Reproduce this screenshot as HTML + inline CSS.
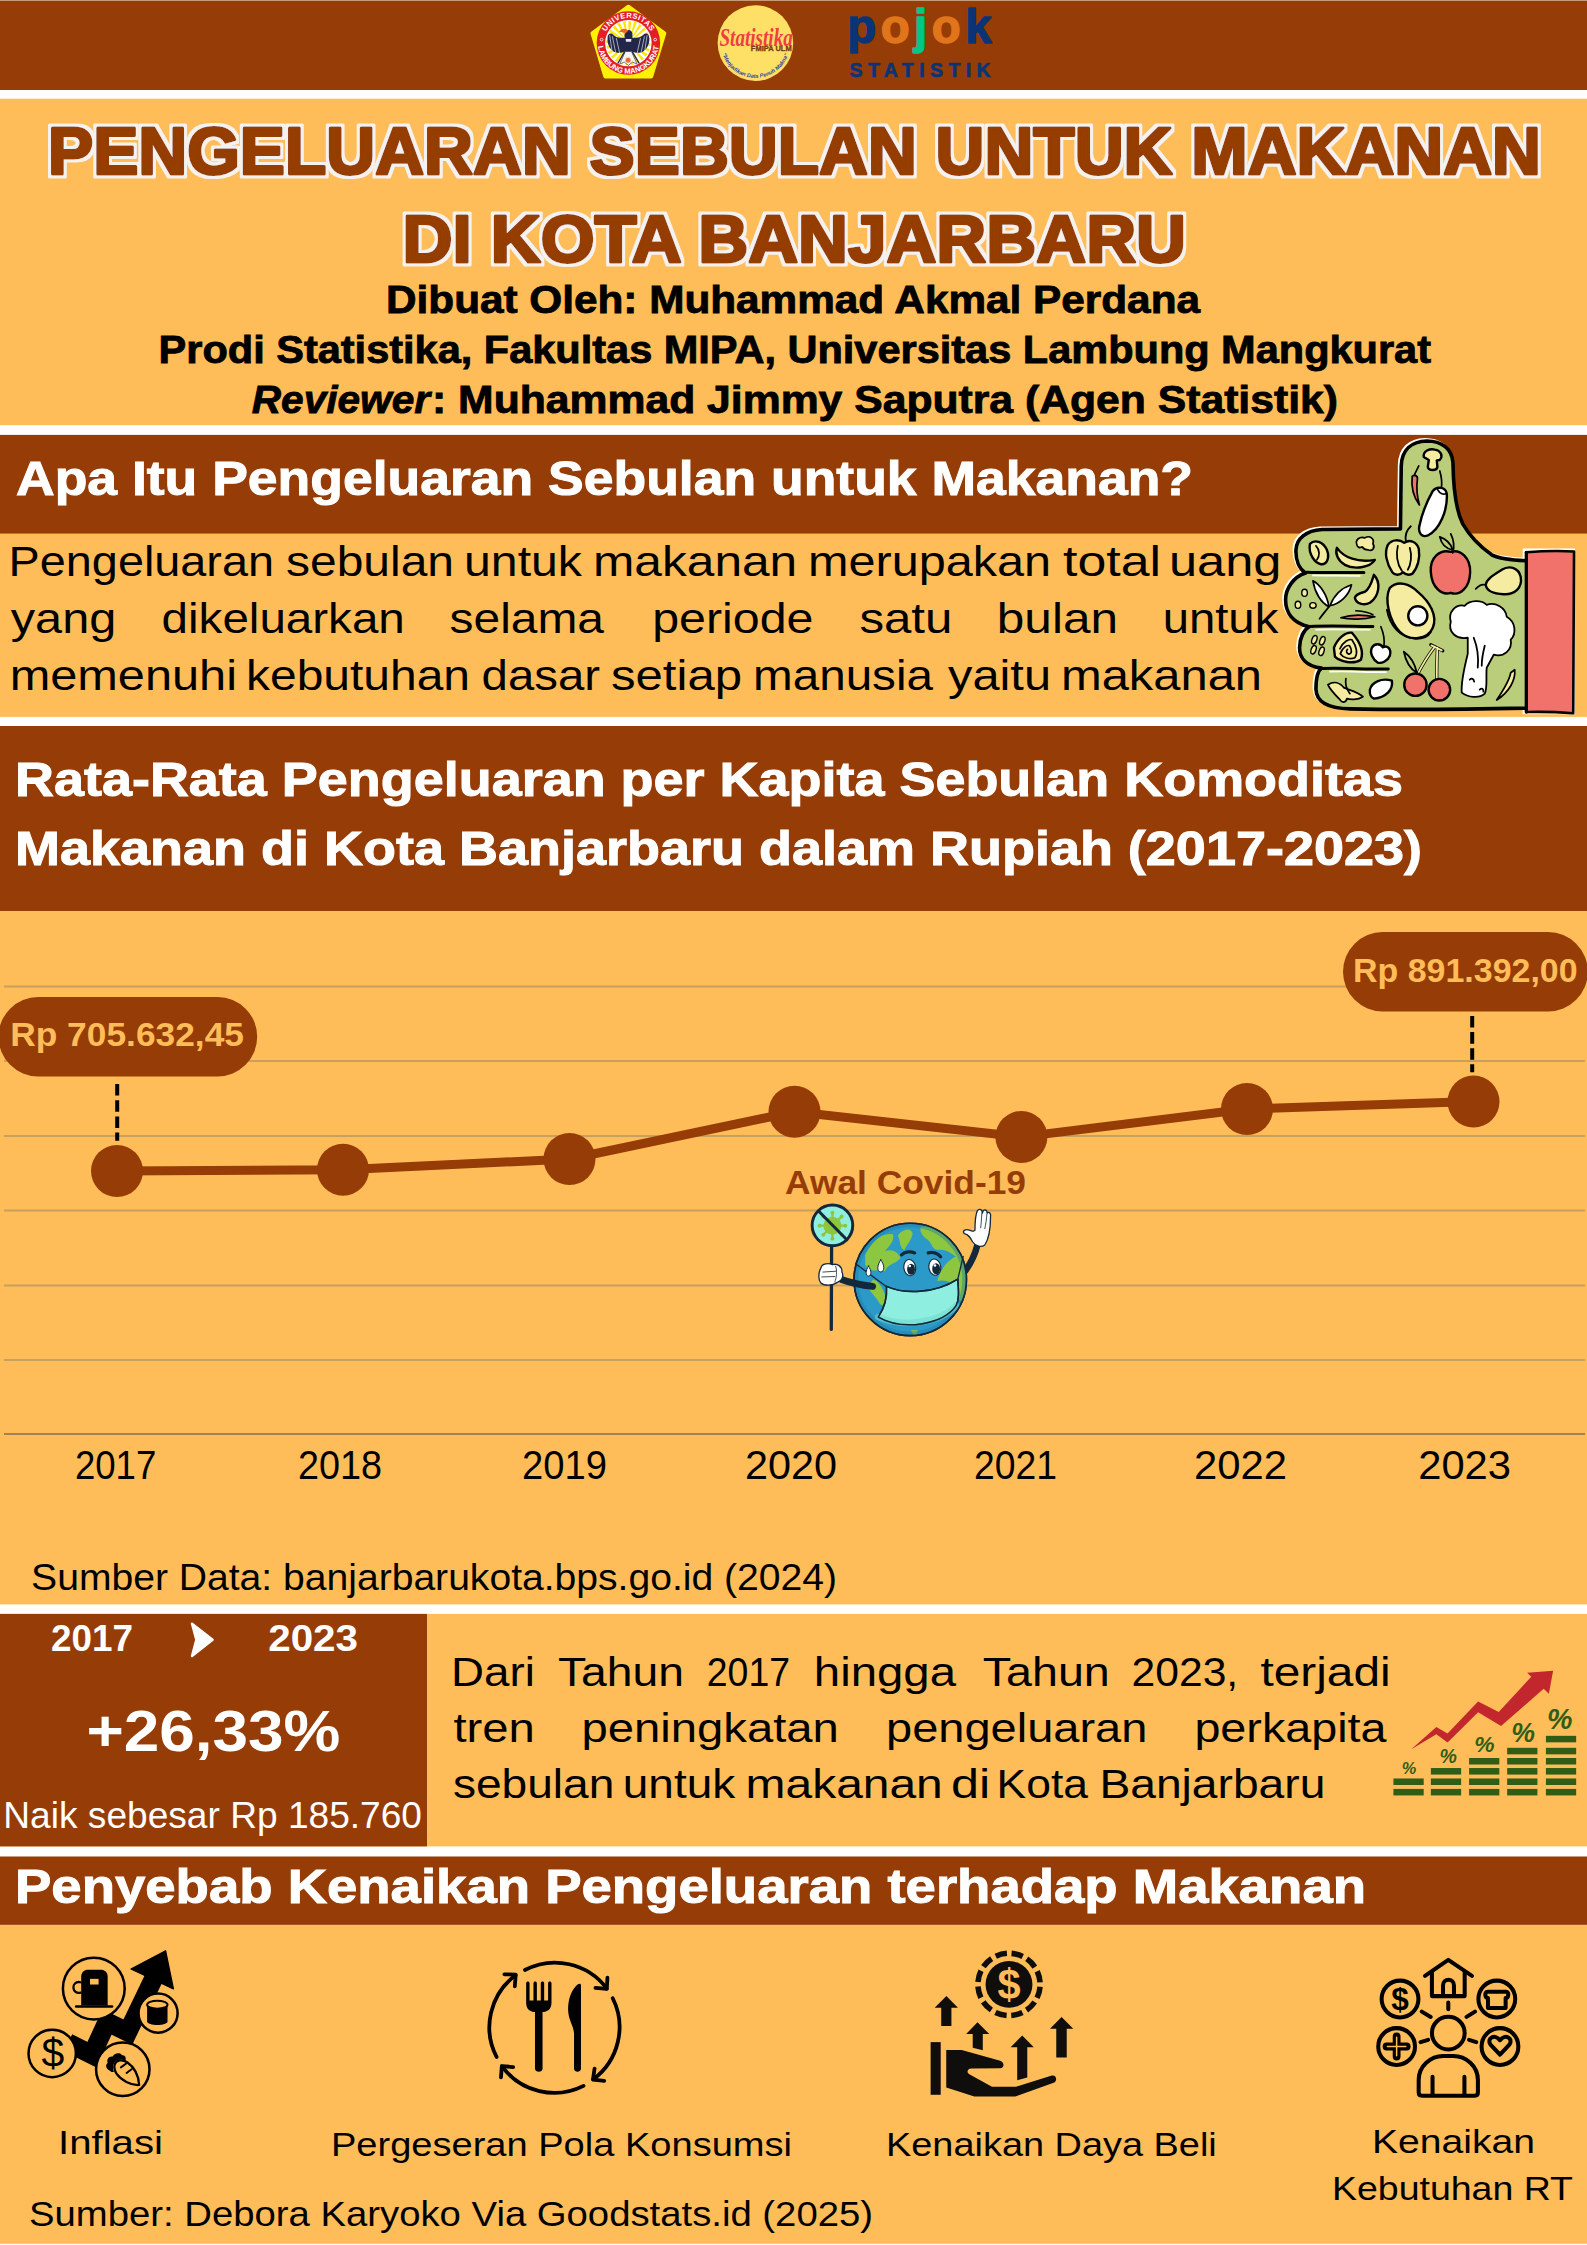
<!DOCTYPE html>
<html lang="id"><head><meta charset="utf-8"><title>Pengeluaran Sebulan untuk Makanan di Kota Banjarbaru</title>
<style>html,body{margin:0;padding:0;background:#fff}body{width:1587px;height:2245px;overflow:hidden}svg{display:block}text{font-family:"Liberation Sans",sans-serif;white-space:pre}</style></head><body>
<svg width="1587" height="2245" viewBox="0 0 1587 2245">
<defs><filter id="ol" x="-2%" y="-10%" width="104%" height="120%"><feMorphology in="SourceAlpha" operator="dilate" radius="2.9" result="d"/><feFlood flood-color="#f4f1ee"/><feComposite in2="d" operator="in" result="o"/><feMerge><feMergeNode in="o"/><feMergeNode in="SourceGraphic"/></feMerge></filter></defs>
<rect width="1587" height="2245" fill="#fff"/>
<rect x="0" y="0" width="1587" height="90" fill="#963C06"/>
<rect x="0" y="0" width="1587" height="1" fill="#c89a77"/>
<rect x="0" y="98.7" width="1587" height="326.5" fill="#FFBD59"/>
<rect x="0" y="434.9" width="1587" height="98.9" fill="#963C06"/>
<rect x="0" y="533.8" width="1587" height="183.1" fill="#FFBD59"/>
<rect x="0" y="726" width="1587" height="185" fill="#963C06"/>
<rect x="0" y="911" width="1587" height="693.4" fill="#FFBD59"/>
<rect x="0" y="1613.9" width="1587" height="232.5" fill="#FFBD59"/>
<rect x="0" y="1613.9" width="427" height="232.5" fill="#963C06"/>
<rect x="0" y="1856.5" width="1587" height="68.4" fill="#963C06"/>
<rect x="0" y="1924.9" width="1587" height="320.1" fill="#FFBD59"/>
<rect x="0" y="2243.7" width="1587" height="1.3" fill="#fff8ee"/>
<g transform="translate(580 0) scale(0.15123)">
<path d="M320 44 L558 220 L471 506 L167 506 L82 220 Z" fill="#FFF200" stroke="#FFF200" stroke-width="26" stroke-linejoin="round"/>
<circle cx="320" cy="285" r="210" fill="#E21E26"/>
<circle cx="320" cy="285" r="150" fill="#fff"/>
<path d="M320 285 L468.0 285.0 L466.7 304.3 Z M320 285 L463.0 323.3 L456.7 341.6 Z M320 285 L448.2 359.0 L437.4 375.1 Z M320 285 L424.7 389.7 L410.1 402.4 Z M320 285 L394.0 413.2 L376.6 421.7 Z M320 285 L358.3 428.0 L339.3 431.7 Z M320 285 L320.0 433.0 L300.7 431.7 Z M320 285 L281.7 428.0 L263.4 421.7 Z M320 285 L246.0 413.2 L229.9 402.4 Z M320 285 L215.3 389.7 L202.6 375.1 Z M320 285 L191.8 359.0 L183.3 341.6 Z M320 285 L177.0 323.3 L173.3 304.3 Z M320 285 L172.0 285.0 L173.3 265.7 Z M320 285 L177.0 246.7 L183.3 228.4 Z M320 285 L191.8 211.0 L202.6 194.9 Z M320 285 L215.3 180.3 L229.9 167.6 Z M320 285 L246.0 156.8 L263.4 148.3 Z M320 285 L281.7 142.0 L300.7 138.3 Z M320 285 L320.0 137.0 L339.3 138.3 Z M320 285 L358.3 142.0 L376.6 148.3 Z M320 285 L394.0 156.8 L410.1 167.6 Z M320 285 L424.7 180.3 L437.4 194.9 Z M320 285 L448.2 211.0 L456.7 228.4 Z M320 285 L463.0 246.7 L466.7 265.7 Z" fill="#FFE600"/>
<circle cx="320" cy="285" r="150" fill="none" stroke="#fff" stroke-width="7"/>
<path d="M318 262 C290 240 250 262 222 232 C205 215 188 222 184 240 C176 280 190 318 222 340 C250 356 280 350 305 335 Z" fill="#22264B"/>
<path d="M322 262 C350 240 390 262 418 232 C435 215 452 222 456 240 C464 280 450 318 418 340 C390 356 360 350 335 335 Z" fill="#22264B"/>
<path d="M196 232 L212 336 M214 240 L236 348 M240 252 L262 350 M444 232 L428 336 M426 240 L404 348 M400 252 L378 350" stroke="#fff" stroke-width="4" fill="none"/>
<path d="M296 218 C300 192 340 190 346 218 C350 240 342 262 348 290 C354 322 340 350 320 350 C300 350 286 322 292 290 C298 262 292 240 296 218 Z" fill="#22264B"/>
<path d="M302 258 L340 258 L338 276 L304 276 Z" fill="#e8e8ee"/>
<path d="M258 212 C272 186 300 182 320 204 L300 222 C290 214 274 213 258 212 Z" fill="#F26522"/>
<path d="M300 340 L262 425 L292 410 L320 432 L348 410 L378 425 L340 340 Z" fill="#f4f4f8" stroke="#22264B" stroke-width="4"/>
<path d="M296 340 L250 420 M344 340 L392 420" stroke="#22264B" stroke-width="9" fill="none"/>
<circle cx="318" cy="398" r="19" fill="#F26522" stroke="#fff" stroke-width="4"/>
<defs><path id="ulmT" d="M154 285 A166 166 0 0 1 486 285"/><path id="ulmB" d="M118 285 A202 202 0 0 0 522 285"/></defs>
<text font-size="50" font-weight="700" fill="#fff" text-anchor="middle" letter-spacing="3"><textPath href="#ulmT" startOffset="50%">UNIVERSITAS</textPath></text>
<text font-size="50" font-weight="700" fill="#fff" text-anchor="middle" letter-spacing="0"><textPath href="#ulmB" startOffset="50%">LAMBUNG MANGKURAT</textPath></text>
<circle cx="143" cy="262" r="9" fill="none" stroke="#fff" stroke-width="5"/><circle cx="497" cy="262" r="9" fill="none" stroke="#fff" stroke-width="5"/>
</g>
<g transform="translate(580 0) scale(0.15123)">
<circle cx="1160" cy="285" r="250" fill="#FFE066"/>
<text x="922" y="302" font-size="165" font-style="italic" font-weight="700" fill="#EF3E42" style='font-family:"Liberation Serif",serif' textLength="485" lengthAdjust="spacingAndGlyphs">Statistika</text>
<text x="1130" y="338" font-size="46" font-weight="700" fill="#7A3B10" stroke="#7A3B10" stroke-width="2" textLength="270" lengthAdjust="spacingAndGlyphs">FMIPA ULM</text>
<defs><path id="stB" d="M940 352 A230 230 0 0 0 1380 352"/></defs>
<text font-size="36" font-weight="700" font-style="italic" fill="#2B4B9B"><textPath href="#stB" startOffset="4" textLength="575" lengthAdjust="spacingAndGlyphs">"Menjadikan Data Penuh Makna"</textPath></text>
</g>
<g transform="translate(830 0) scale(0.11342)" font-weight="700" stroke-linejoin="round">
<text x="152" y="383" font-size="418" stroke-width="13" textLength="1272" lengthAdjust="spacing"><tspan fill="#0B3478" stroke="#0B3478">p</tspan><tspan fill="#E0751B" stroke="#E0751B">o</tspan><tspan fill="#00C785" stroke="#00C785">j</tspan><tspan fill="#E0751B" stroke="#E0751B">o</tspan><tspan fill="#0B3478" stroke="#0B3478">k</tspan></text>
<text x="172" y="678" font-size="172" fill="#0B3478" stroke="#0B3478" stroke-width="6" textLength="1245" lengthAdjust="spacing">STATISTIK</text>
</g>
<g filter="url(#ol)" fill="#963C06" stroke="#963C06" stroke-width="3" stroke-linejoin="round" font-weight="700">
<text x="48.0" y="174.0" font-size="67.3" font-weight="700" fill="#963C06" textLength="1493.0" lengthAdjust="spacingAndGlyphs">PENGELUARAN SEBULAN UNTUK MAKANAN</text>
<text x="402.5" y="262.0" font-size="67.3" font-weight="700" fill="#963C06" textLength="783.5" lengthAdjust="spacingAndGlyphs">DI KOTA BANJARBARU</text>
</g>
<text x="386.0" y="312.6" font-size="38" font-weight="700" fill="#000" textLength="814.0" lengthAdjust="spacingAndGlyphs" stroke="#000" stroke-width="0.8">Dibuat Oleh: Muhammad Akmal Perdana</text>
<text x="158.6" y="362.5" font-size="38" font-weight="700" fill="#000" textLength="1272.4" lengthAdjust="spacingAndGlyphs" stroke="#000" stroke-width="0.8">Prodi Statistika, Fakultas MIPA, Universitas Lambung Mangkurat</text>
<text y="412.6" font-size="38" font-weight="700" fill="#000" stroke="#000" stroke-width="0.8"><tspan x="251.8" font-style="italic" textLength="178.2" lengthAdjust="spacingAndGlyphs">Reviewer</tspan><tspan x="432.0" textLength="906.0" lengthAdjust="spacingAndGlyphs">: Muhammad Jimmy Saputra (Agen Statistik)</tspan></text>
<text x="16.0" y="494.7" font-size="49" font-weight="700" fill="#fff" textLength="1177.0" lengthAdjust="spacingAndGlyphs" stroke="#fff" stroke-width="1">Apa Itu Pengeluaran Sebulan untuk Makanan?</text>
<text y="575.7" font-size="41.6" font-weight="400" fill="#000"><tspan x="8.6" textLength="265.4" lengthAdjust="spacingAndGlyphs">Pengeluaran</tspan> <tspan x="286.0" textLength="168.0" lengthAdjust="spacingAndGlyphs">sebulan</tspan> <tspan x="464.0" textLength="118.0" lengthAdjust="spacingAndGlyphs">untuk</tspan> <tspan x="593.0" textLength="204.2" lengthAdjust="spacingAndGlyphs">makanan</tspan> <tspan x="808.0" textLength="243.0" lengthAdjust="spacingAndGlyphs">merupakan</tspan> <tspan x="1063.0" textLength="98.0" lengthAdjust="spacingAndGlyphs">total</tspan> <tspan x="1169.0" textLength="112.4" lengthAdjust="spacingAndGlyphs">uang</tspan></text>
<text y="632.6" font-size="41.6" font-weight="400" fill="#000"><tspan x="10.8" textLength="105.4" lengthAdjust="spacingAndGlyphs">yang</tspan> <tspan x="161.6" textLength="243.2" lengthAdjust="spacingAndGlyphs">dikeluarkan</tspan> <tspan x="449.6" textLength="154.4" lengthAdjust="spacingAndGlyphs">selama</tspan> <tspan x="652.2" textLength="161.2" lengthAdjust="spacingAndGlyphs">periode</tspan> <tspan x="859.4" textLength="93.0" lengthAdjust="spacingAndGlyphs">satu</tspan> <tspan x="996.8" textLength="121.2" lengthAdjust="spacingAndGlyphs">bulan</tspan> <tspan x="1162.7" textLength="115.6" lengthAdjust="spacingAndGlyphs">untuk</tspan></text>
<text y="689.6" font-size="41.6" font-weight="400" fill="#000"><tspan x="9.7" textLength="227.3" lengthAdjust="spacingAndGlyphs">memenuhi</tspan> <tspan x="246.0" textLength="224.0" lengthAdjust="spacingAndGlyphs">kebutuhan</tspan> <tspan x="481.6" textLength="118.4" lengthAdjust="spacingAndGlyphs">dasar</tspan> <tspan x="611.0" textLength="131.0" lengthAdjust="spacingAndGlyphs">setiap</tspan> <tspan x="753.0" textLength="180.0" lengthAdjust="spacingAndGlyphs">manusia</tspan> <tspan x="948.0" textLength="103.0" lengthAdjust="spacingAndGlyphs">yaitu</tspan> <tspan x="1061.0" textLength="201.0" lengthAdjust="spacingAndGlyphs">makanan</tspan></text>
<g transform="translate(1270 430) scale(0.19975)" stroke-linecap="round" stroke-linejoin="round">
<defs><path id="handsil" d="M653 495 L657 180 C660 100 708 57 785 55 C860 55 912 95 916 165 C918 300 930 400 965 470 C1000 530 1060 590 1110 625 C1160 650 1230 652 1290 655 L1290 1392 C1000 1398 700 1402 400 1396 C290 1394 232 1360 230 1298 C230 1245 240 1205 258 1192 C180 1182 148 1140 148 1090 C148 1040 170 1000 196 985 C110 965 78 910 78 850 C78 790 120 735 178 716 C145 695 128 650 130 600 C132 545 180 503 260 498 Z"/></defs>
<use href="#handsil" transform="translate(-9 -7)" fill="#fff" stroke="#fff" stroke-width="16"/>
<rect x="1272" y="598" width="262" height="830" fill="#fff" transform="translate(-7 -5)"/>
<use href="#handsil" fill="#BACD7B" stroke="#000" stroke-width="18"/>
<g fill="none" stroke="#000" stroke-width="15">
<path d="M185 712 C300 716 400 712 470 714"/><path d="M200 984 C320 978 430 985 515 984"/><path d="M262 1194 C380 1190 500 1200 592 1196"/>
</g>
<g fill="none" stroke="#fff" stroke-width="8.5"><path d="M215 728 C300 730 380 728 450 730"/><path d="M230 1000 C320 996 430 1001 500 1000"/><path d="M300 1210 C400 1206 500 1214 580 1212"/></g>
<!-- sleeve -->
<path d="M1283 612 C1360 606 1450 604 1522 608 L1518 1418 C1440 1412 1350 1410 1283 1412 Z" fill="#F0726B" stroke="#000" stroke-width="13"/>
<path d="M1283 612 L1283 1412" stroke="#000" stroke-width="16" fill="none"/>
<g stroke="#000" stroke-width="12">
<!-- mushroom -->
<path d="M770 135 C765 105 800 92 825 98 C855 102 868 130 850 150 L835 152 L838 185 C835 205 795 205 790 185 L795 150 Z" fill="#F5ECA2"/>
<!-- chili -->
<path d="M745 180 C735 200 725 215 722 230" fill="none" stroke-width="8.5"/>
<path d="M712 232 C722 222 740 228 738 245 C732 290 735 330 748 375 C722 340 705 290 712 232 Z" fill="#F0726B" stroke-width="8.5"/>
<!-- eggplant/radish -->
<path d="M850 205 C860 240 862 265 858 290" fill="none" stroke-width="8.5"/>
<path d="M815 305 C835 280 880 285 885 320 C890 400 850 500 790 528 C760 540 740 515 748 480 C760 420 790 350 815 305 Z" fill="#fff"/>
<path d="M840 300 C850 320 870 325 883 318" fill="none" stroke-width="9"/>
<!-- pepper -->
<path d="M680 560 C675 530 685 500 705 482" fill="none" stroke-width="9"/>
<path d="M590 575 C610 545 650 548 672 565 C700 545 735 560 745 595 C752 640 740 690 712 720 C690 730 675 722 665 712 C650 730 625 728 612 712 C585 670 570 615 590 575 Z" fill="#F5ECA2"/>
<path d="M640 580 C630 620 635 670 660 705 M700 590 C712 630 705 675 690 700" fill="none" stroke-width="9"/>
<!-- apple -->
<path d="M905 610 C850 595 800 640 805 710 C810 790 860 830 905 815 C950 832 1000 790 1002 712 C1004 640 955 596 905 610 Z" fill="#F0726B"/>
<path d="M915 615 C925 580 920 550 905 520" fill="none" stroke-width="9"/>
<path d="M850 535 C880 545 905 570 915 600 C880 595 858 570 850 535 Z" fill="#BACD7B" stroke-width="9"/>
<!-- pear -->
<path d="M1075 775 C1060 770 1045 780 1030 795" fill="none" stroke-width="8.5"/>
<path d="M1080 775 C1085 745 1120 725 1160 700 C1200 675 1245 690 1255 735 C1265 790 1225 825 1170 822 C1130 820 1085 810 1080 775 Z" fill="#F5ECA2"/>
<!-- avocado -->
<path d="M600 790 C640 750 700 770 740 810 C800 860 840 930 815 990 C790 1050 700 1060 650 1010 C600 960 570 850 600 790 Z" fill="#F5ECA2"/>
<path d="M585 900 C600 980 650 1040 730 1045 C770 1045 795 1030 805 1010" fill="none" stroke-width="9"/>
<circle cx="740" cy="930" r="48" fill="#fff"/>
<!-- cauliflower -->
<path d="M990 1040 C930 1050 890 1010 905 960 C890 910 930 870 975 880 C1000 850 1060 850 1085 875 C1130 860 1180 890 1185 935 C1230 960 1235 1020 1205 1050 C1215 1100 1170 1140 1120 1125 L1085 1190 C1080 1240 1090 1290 1075 1320 C1050 1345 990 1340 960 1315 C955 1260 975 1180 990 1120 Z" fill="#fff" stroke-width="9"/>
<path d="M1020 1040 C1040 1090 1045 1140 1040 1190 M1075 1080 C1065 1120 1060 1150 1060 1180 M1000 1250 C1010 1240 1020 1245 1022 1260 M1050 1300 C1060 1290 1070 1295 1068 1310" fill="none" stroke-width="9"/>
<!-- cherries -->
<path d="M735 1230 C760 1180 790 1130 825 1085 M835 1260 C835 1200 835 1140 838 1090 M805 1075 L865 1105" fill="none" stroke="#000" stroke-width="16"/>
<path d="M735 1230 C760 1180 790 1130 825 1085 M835 1260 C835 1200 835 1140 838 1090 M808 1078 L860 1103" fill="none" stroke="#F5ECA2" stroke-width="9"/>
<path d="M670 1110 C700 1130 725 1170 735 1215 C700 1195 680 1160 670 1110 Z" fill="#BACD7B" stroke-width="9"/>
<circle cx="728" cy="1275" r="56" fill="#F0726B"/><circle cx="848" cy="1300" r="54" fill="#F0726B"/>
<!-- lemon -->
<path d="M500 1300 C510 1260 560 1240 610 1255 C618 1300 580 1340 520 1345 C505 1340 498 1320 500 1300 Z" fill="#fff"/>
<!-- heart fruit -->
<path d="M555 985 C570 1020 575 1050 570 1085" fill="none" stroke-width="8.5"/>
<path d="M510 1090 C525 1065 555 1070 565 1088 C585 1075 610 1095 600 1130 C590 1155 560 1170 540 1165 C515 1150 498 1115 510 1090 Z" fill="#fff"/>
<!-- spiral cabbage -->
<path d="M320 1090 C340 1040 380 1010 410 1015 C450 1060 470 1110 455 1150 C420 1175 350 1160 325 1135 Z" fill="#F5ECA2"/>
<path d="M350 1095 C365 1060 395 1045 410 1050 C435 1085 440 1120 425 1140 C400 1150 365 1140 352 1120 C362 1090 385 1075 398 1080 C412 1100 410 1120 395 1122 C382 1118 380 1105 388 1098" fill="none" stroke-width="8.5"/>
<!-- grains -->
<g fill="#F5ECA2" stroke-width="7"><ellipse cx="222" cy="1050" rx="12" ry="22" transform="rotate(20 222 1050)"/><ellipse cx="262" cy="1055" rx="12" ry="22" transform="rotate(20 262 1055)"/><ellipse cx="218" cy="1100" rx="12" ry="22" transform="rotate(20 218 1100)"/><ellipse cx="258" cy="1108" rx="12" ry="22" transform="rotate(20 258 1108)"/></g>
<!-- peanut/banana bottom -->
<path d="M290 1275 C320 1255 350 1265 370 1290 C390 1300 440 1310 465 1335 C440 1352 400 1350 385 1345 C380 1365 360 1368 350 1350 C330 1330 300 1300 290 1275 Z" fill="#F5ECA2" stroke-width="9"/>
<path d="M380 1245 C375 1270 385 1300 400 1320" fill="none" stroke-width="8.5"/>
<!-- bean -->
<path d="M200 570 C225 545 265 560 285 600 C300 640 285 675 255 672 C225 668 190 620 200 570 Z" fill="#F5ECA2"/>
<path d="M230 580 C250 600 250 630 235 650" fill="none" stroke-width="8.5"/>
<!-- banana -->
<path d="M335 590 C370 640 440 665 525 650 C500 690 420 700 375 675 C340 655 325 620 335 590 Z" fill="#F5ECA2"/>
<!-- small cauliflower -->
<path d="M435 575 C425 550 450 530 475 540 C500 525 525 545 515 570 C530 590 510 610 490 600 C470 600 465 590 462 585 C450 592 438 588 435 575 Z" fill="#F5ECA2" stroke-width="8.5"/>
<!-- leaves -->
<path d="M215 755 C250 775 285 820 295 885 C255 865 225 815 215 755 Z" fill="#fff" stroke-width="8.5"/>
<path d="M300 880 C320 830 360 790 408 775 C395 830 350 870 300 880 Z" fill="#fff" stroke-width="8.5"/>
<path d="M295 885 C280 905 262 925 248 945" fill="none" stroke-width="9"/>
<g fill="#F5ECA2" stroke-width="7"><ellipse cx="173" cy="815" rx="14" ry="18"/><ellipse cx="140" cy="875" rx="14" ry="18"/><ellipse cx="215" cy="878" rx="16" ry="14"/></g>
<!-- cashew -->
<path d="M520 725 C555 760 550 830 500 865 C470 880 430 870 425 840 C430 820 455 815 475 810 C505 790 510 755 520 725 Z" fill="#F5ECA2"/>
<!-- small chili -->
<path d="M355 940 C400 925 470 925 525 935 C470 950 400 950 355 940 Z" fill="#F0726B" stroke-width="8.5"/>
<path d="M430 905 C470 908 500 915 515 925" fill="none" stroke-width="8.5"/>
<!-- small chili br -->
<path d="M1225 1200 C1230 1250 1200 1310 1135 1352 C1170 1300 1200 1250 1205 1215 Z" fill="#F5ECA2" stroke-width="8.5"/>
</g>
</g>

<text x="15.0" y="796.0" font-size="49" font-weight="700" fill="#fff" textLength="1388.0" lengthAdjust="spacingAndGlyphs" stroke="#fff" stroke-width="1">Rata-Rata Pengeluaran per Kapita Sebulan Komoditas</text>
<text x="15.0" y="864.8" font-size="49" font-weight="700" fill="#fff" textLength="1407.0" lengthAdjust="spacingAndGlyphs" stroke="#fff" stroke-width="1">Makanan di Kota Banjarbaru dalam Rupiah (2017-2023)</text>
<rect x="4" y="985.5" width="1581" height="2" fill="#c79f5e"/>
<rect x="4" y="1060" width="1581" height="2" fill="#c79f5e"/>
<rect x="4" y="1135" width="1581" height="2" fill="#c79f5e"/>
<rect x="4" y="1209.5" width="1581" height="2" fill="#c79f5e"/>
<rect x="4" y="1284.5" width="1581" height="2" fill="#c79f5e"/>
<rect x="4" y="1359" width="1581" height="2" fill="#c79f5e"/>
<rect x="4" y="1433" width="1581" height="2" fill="#a08451"/>
<polyline points="117,1171 343,1169.7 569.5,1159 794.5,1111.7 1021.4,1136.9 1247,1109 1473.5,1101.6" fill="none" stroke="#963C06" stroke-width="9" stroke-linejoin="round"/>
<circle cx="117" cy="1171" r="26" fill="#963C06"/>
<circle cx="343" cy="1169.7" r="26" fill="#963C06"/>
<circle cx="569.5" cy="1159" r="26" fill="#963C06"/>
<circle cx="794.5" cy="1111.7" r="26" fill="#963C06"/>
<circle cx="1021.4" cy="1136.9" r="26" fill="#963C06"/>
<circle cx="1247" cy="1109" r="26" fill="#963C06"/>
<circle cx="1473.5" cy="1101.6" r="26" fill="#963C06"/>
<rect x="-1.5" y="997" width="258.7" height="79.4" rx="39.7" fill="#963C06"/>
<rect x="1343" y="932" width="244.8" height="79.4" rx="39.7" fill="#963C06"/>
<text x="10.2" y="1046.0" font-size="34" font-weight="700" fill="#FFBD59" textLength="233.8" lengthAdjust="spacingAndGlyphs">Rp 705.632,45</text>
<text x="1353.0" y="981.7" font-size="34" font-weight="700" fill="#FFBD59" textLength="224.6" lengthAdjust="spacingAndGlyphs">Rp 891.392,00</text>
<line x1="117.2" y1="1084" x2="117.2" y2="1140.7" stroke="#000" stroke-width="4" stroke-dasharray="11.6 4.6"/>
<line x1="1472.2" y1="1016" x2="1472.2" y2="1072.3" stroke="#000" stroke-width="4" stroke-dasharray="11.6 4.5"/>
<text x="785.0" y="1194.0" font-size="33" font-weight="700" fill="#963C06" textLength="241.0" lengthAdjust="spacingAndGlyphs">Awal Covid-19</text>
<g transform="translate(780 1150) scale(0.16383)" stroke-linecap="round" stroke-linejoin="round">
<defs><clipPath id="ecl"><circle cx="795" cy="790" r="340"/></clipPath></defs>
<!-- pole + sign -->
<path d="M315 590 L313 1095" stroke="#13283B" stroke-width="20" fill="none"/>
<circle cx="320" cy="460" r="124" fill="#8EEFE0" stroke="#13283B" stroke-width="18"/>
<g fill="#8DC63F" stroke="#8DC63F" stroke-width="14">
<circle cx="320" cy="462" r="55" stroke="none"/>
<path d="M320 462 L320 385 M320 462 L320 540 M320 462 L243 462 M320 462 L397 462 M320 462 L266 408 M320 462 L374 408 M320 462 L266 516 M320 462 L374 516" fill="none"/>
<circle cx="320" cy="383" r="5"/><circle cx="320" cy="541" r="5"/><circle cx="241" cy="462" r="5"/><circle cx="399" cy="462" r="5"/><circle cx="264" cy="406" r="5"/><circle cx="376" cy="406" r="5"/><circle cx="264" cy="518" r="5"/><circle cx="376" cy="518" r="5"/>
</g>
<path d="M235 372 L408 548" stroke="#13283B" stroke-width="18" fill="none"/>
<!-- right arm -->
<path d="M1125 745 C1160 700 1190 640 1205 580" stroke="#13283B" stroke-width="40" fill="none"/>
<!-- earth -->
<circle cx="795" cy="790" r="343" fill="#2B9AC8" stroke="#13283B" stroke-width="10"/>
<g clip-path="url(#ecl)">
<path d="M520 640 C560 560 620 500 690 515 C700 560 660 590 640 620 C680 600 720 620 735 660 C700 700 660 690 640 740 C600 720 560 760 520 700 Z" fill="#8DC63F"/>
<path d="M720 520 C750 480 800 470 810 510 C800 560 770 580 760 610 C730 600 735 560 720 520 Z" fill="#8DC63F"/>
<path d="M860 470 C930 450 1010 500 1060 560 C1100 600 1120 650 1110 680 C1060 640 1020 600 960 610 C920 600 930 560 890 540 C870 520 850 500 860 470 Z" fill="#8DC63F"/>
<path d="M960 800 C980 720 1040 650 1110 640 C1150 700 1160 820 1130 900 C1100 940 1080 920 1075 860 C1060 800 1000 790 960 800 Z" fill="#8DC63F"/>
<path d="M570 790 C600 800 620 830 640 880 C650 930 630 960 610 940 C590 900 560 880 545 850 C550 820 555 800 570 790 Z" fill="#8DC63F"/>
<path d="M800 1100 L840 1100 L835 1135 L815 1135 Z" fill="#8DC63F"/>
<circle cx="795" cy="790" r="343" fill="none" stroke="#1F7FA8" stroke-width="50" opacity="0.45"/>
</g>
<!-- mask -->
<path d="M470 700 L650 835 M1118 650 L1085 790" stroke="#13283B" stroke-width="8" fill="none"/>
<path d="M650 832 C760 880 940 880 1085 788 C1090 860 1095 910 1075 950 C1000 1060 760 1110 600 1020 C640 960 655 900 650 832 Z" fill="#8EEFE0" stroke="#13283B" stroke-width="9"/>
<path d="M600 1020 C760 1090 980 1050 1075 950" fill="none" stroke="#6FD8CC" stroke-width="40" opacity="0.6"/>
<path d="M650 832 C760 880 940 880 1085 788 C1090 860 1095 910 1075 950 C1000 1060 760 1110 600 1020 C640 960 655 900 650 832 Z" fill="none" stroke="#13283B" stroke-width="9"/>
<circle cx="795" cy="790" r="343" fill="none" stroke="#13283B" stroke-width="10"/>
<!-- face -->
<path d="M742 640 C765 618 800 618 822 628" stroke="#13283B" stroke-width="20" fill="none"/>
<path d="M905 628 C930 620 962 628 980 652" stroke="#13283B" stroke-width="20" fill="none"/>
<ellipse cx="792" cy="718" rx="36" ry="50" fill="#fff" stroke="#13283B" stroke-width="7" transform="rotate(-8 792 718)"/>
<ellipse cx="945" cy="715" rx="36" ry="50" fill="#fff" stroke="#13283B" stroke-width="7" transform="rotate(-8 945 715)"/>
<ellipse cx="800" cy="728" rx="24" ry="34" fill="#13283B"/><ellipse cx="953" cy="725" rx="24" ry="34" fill="#13283B"/>
<circle cx="792" cy="708" r="8" fill="#fff"/><circle cx="946" cy="705" r="8" fill="#fff"/>
<!-- tears -->
<path d="M615 670 C640 705 640 740 615 745 C590 740 592 705 615 670 Z" fill="#fff" stroke="#13283B" stroke-width="6"/>
<path d="M540 708 C560 738 560 765 540 770 C520 765 522 738 540 708 Z" fill="#fff" stroke="#13283B" stroke-width="6"/>
<!-- left arm -->
<path d="M375 790 C430 810 500 825 565 832" stroke="#13283B" stroke-width="42" fill="none"/>
<!-- left fist -->
<path d="M250 720 C255 690 300 690 320 700 C350 690 380 710 378 745 C390 770 380 800 350 808 C320 830 270 830 248 810 C232 790 235 745 250 720 Z" fill="#fff" stroke="#13283B" stroke-width="8"/>
<path d="M262 745 L340 740 M255 775 L335 772 M340 710 C350 740 345 780 335 805" stroke="#13283B" stroke-width="5" fill="none"/>
<!-- right hand -->
<path d="M1175 560 C1160 530 1150 515 1125 510 C1110 495 1130 480 1160 490 C1175 495 1185 500 1190 490 C1190 440 1195 390 1205 370 C1220 355 1235 365 1235 385 C1240 360 1262 358 1265 385 C1275 375 1290 385 1285 410 C1285 470 1275 540 1250 580 C1230 595 1195 590 1175 560 Z" fill="#fff" stroke="#13283B" stroke-width="8"/>
<path d="M1232 385 C1230 420 1228 450 1225 475 M1263 390 C1260 425 1256 455 1250 480" stroke="#13283B" stroke-width="5" fill="none"/>
</g>

<text x="74.9" y="1479.0" font-size="41.2" font-weight="400" fill="#000" textLength="81.4" lengthAdjust="spacingAndGlyphs">2017</text>
<text x="298.0" y="1479.0" font-size="41.2" font-weight="400" fill="#000" textLength="84.0" lengthAdjust="spacingAndGlyphs">2018</text>
<text x="522.0" y="1479.0" font-size="41.2" font-weight="400" fill="#000" textLength="85.0" lengthAdjust="spacingAndGlyphs">2019</text>
<text x="745.0" y="1479.0" font-size="41.2" font-weight="400" fill="#000" textLength="92.0" lengthAdjust="spacingAndGlyphs">2020</text>
<text x="974.0" y="1479.0" font-size="41.2" font-weight="400" fill="#000" textLength="83.0" lengthAdjust="spacingAndGlyphs">2021</text>
<text x="1194.0" y="1479.0" font-size="41.2" font-weight="400" fill="#000" textLength="93.0" lengthAdjust="spacingAndGlyphs">2022</text>
<text x="1418.2" y="1479.0" font-size="41.2" font-weight="400" fill="#000" textLength="92.8" lengthAdjust="spacingAndGlyphs">2023</text>
<text x="31.1" y="1590.4" font-size="36" font-weight="400" fill="#000" textLength="805.9" lengthAdjust="spacingAndGlyphs">Sumber Data: banjarbarukota.bps.go.id (2024)</text>
<text x="51.0" y="1651.4" font-size="36.5" font-weight="700" fill="#fff" textLength="82.0" lengthAdjust="spacingAndGlyphs">2017</text>
<text x="268.2" y="1651.4" font-size="36.5" font-weight="700" fill="#fff" textLength="89.8" lengthAdjust="spacingAndGlyphs">2023</text>
<path d="M192 1623.6 L212.6 1639.7 L192 1656 L196.3 1639.7 Z" fill="#fff" stroke="#fff" stroke-width="2.4" stroke-linejoin="round"/>
<text x="86.4" y="1751.0" font-size="57" font-weight="700" fill="#fff" textLength="254.0" lengthAdjust="spacingAndGlyphs">+26,33%</text>
<text x="3.3" y="1827.8" font-size="36" font-weight="400" fill="#fff" textLength="418.7" lengthAdjust="spacingAndGlyphs">Naik sebesar Rp 185.760</text>
<text y="1686.3" font-size="40.4" font-weight="400" fill="#000"><tspan x="451.1" textLength="83.7" lengthAdjust="spacingAndGlyphs">Dari</tspan> <tspan x="558.0" textLength="126.0" lengthAdjust="spacingAndGlyphs">Tahun</tspan> <tspan x="706.8" textLength="83.2" lengthAdjust="spacingAndGlyphs">2017</tspan> <tspan x="813.8" textLength="142.2" lengthAdjust="spacingAndGlyphs">hingga</tspan> <tspan x="982.8" textLength="127.0" lengthAdjust="spacingAndGlyphs">Tahun</tspan> <tspan x="1131.6" textLength="106.6" lengthAdjust="spacingAndGlyphs">2023,</tspan> <tspan x="1260.4" textLength="130.2" lengthAdjust="spacingAndGlyphs">terjadi</tspan></text>
<text y="1742.4" font-size="40.4" font-weight="400" fill="#000"><tspan x="453.4" textLength="81.4" lengthAdjust="spacingAndGlyphs">tren</tspan> <tspan x="581.6" textLength="257.2" lengthAdjust="spacingAndGlyphs">peningkatan</tspan> <tspan x="886.0" textLength="261.4" lengthAdjust="spacingAndGlyphs">pengeluaran</tspan> <tspan x="1194.4" textLength="192.2" lengthAdjust="spacingAndGlyphs">perkapita</tspan></text>
<text y="1798.4" font-size="40.4" font-weight="400" fill="#000"><tspan x="452.9" textLength="161.5" lengthAdjust="spacingAndGlyphs">sebulan</tspan> <tspan x="622.8" textLength="112.4" lengthAdjust="spacingAndGlyphs">untuk</tspan> <tspan x="745.6" textLength="197.2" lengthAdjust="spacingAndGlyphs">makanan</tspan> <tspan x="951.0" textLength="39.2" lengthAdjust="spacingAndGlyphs">di</tspan> <tspan x="996.6" textLength="91.4" lengthAdjust="spacingAndGlyphs">Kota</tspan> <tspan x="1099.4" textLength="226.0" lengthAdjust="spacingAndGlyphs">Banjarbaru</tspan></text>
<g transform="translate(1380 1650) scale(0.13043)">
<rect x="103" y="1065" width="232" height="50" fill="#2F5D16"/>
<rect x="103" y="985" width="232" height="50" fill="#2F5D16"/>
<rect x="390" y="1065" width="232" height="50" fill="#2F5D16"/>
<rect x="390" y="985" width="232" height="50" fill="#2F5D16"/>
<rect x="390" y="905" width="232" height="50" fill="#2F5D16"/>
<rect x="683" y="1065" width="232" height="50" fill="#2F5D16"/>
<rect x="683" y="985" width="232" height="50" fill="#2F5D16"/>
<rect x="683" y="905" width="232" height="50" fill="#2F5D16"/>
<rect x="683" y="828" width="232" height="50" fill="#2F5D16"/>
<rect x="975" y="1065" width="232" height="50" fill="#2F5D16"/>
<rect x="975" y="985" width="232" height="50" fill="#2F5D16"/>
<rect x="975" y="905" width="232" height="50" fill="#2F5D16"/>
<rect x="975" y="828" width="232" height="50" fill="#2F5D16"/>
<rect x="975" y="750" width="232" height="50" fill="#2F5D16"/>
<rect x="1272" y="1065" width="232" height="50" fill="#2F5D16"/>
<rect x="1272" y="985" width="232" height="50" fill="#2F5D16"/>
<rect x="1272" y="905" width="232" height="50" fill="#2F5D16"/>
<rect x="1272" y="828" width="232" height="50" fill="#2F5D16"/>
<rect x="1272" y="750" width="232" height="50" fill="#2F5D16"/>
<rect x="1272" y="658" width="232" height="50" fill="#2F5D16"/>
<path d="M240 760 L432 590 L518 640 L752 395 L910 475 L1160 205 L1128 175 L1327 160 L1295 335 L1255 297 L928 582 L752 478 L518 710 L432 645 Z" fill="#C1272D"/>
<text x="222" y="950" font-size="125" font-weight="700" font-style="italic" text-anchor="middle" fill="#2F5D16">%</text>
<text x="522" y="868" font-size="150" font-weight="700" font-style="italic" text-anchor="middle" fill="#2F5D16">%</text>
<text x="800" y="785" font-size="175" font-weight="700" font-style="italic" text-anchor="middle" fill="#2F5D16">%</text>
<text x="1097" y="705" font-size="205" font-weight="700" font-style="italic" text-anchor="middle" fill="#2F5D16">%</text>
<text x="1378" y="608" font-size="220" font-weight="700" font-style="italic" text-anchor="middle" fill="#2F5D16">%</text>
</g>
<text x="15.0" y="1902.9" font-size="49" font-weight="700" fill="#fff" textLength="1351.0" lengthAdjust="spacingAndGlyphs" stroke="#fff" stroke-width="1">Penyebab Kenaikan Pengeluaran terhadap Makanan</text>
<!-- icon 1: inflasi -->
<g transform="translate(10 1935) scale(0.12602)" stroke-linecap="round" stroke-linejoin="round">
<path d="M460 855 L650 950 L770 690 L935 770 L1150 325" fill="none" stroke="#000" stroke-width="150" stroke-linecap="butt" stroke-linejoin="miter"/>
<path d="M960 270 L1235 125 L1297 428 Z" fill="#000" stroke="#000" stroke-width="10"/>
<circle cx="665" cy="425" r="245" fill="#FFBD59" stroke="#000" stroke-width="20"/>
<circle cx="335" cy="940" r="188" fill="#FFBD59" stroke="#000" stroke-width="20"/>
<circle cx="895" cy="1065" r="212" fill="#FFBD59" stroke="#000" stroke-width="20"/>
<circle cx="1175" cy="620" r="155" fill="#FFBD59" stroke="#000" stroke-width="20"/>
<!-- pump -->
<path d="M565 560 L565 330 C565 295 590 275 620 275 L720 275 C750 275 775 295 775 330 L775 560 Z" fill="#000"/>
<rect x="635" y="348" width="68" height="45" fill="#FFBD59"/>
<path d="M525 568 L810 568" stroke="#000" stroke-width="20" fill="none"/>
<path d="M560 375 C520 365 500 395 503 420 C506 450 530 465 560 458" stroke="#000" stroke-width="18" fill="none"/>
<!-- dollar -->
<text x="340" y="1050" font-size="325" font-weight="400" text-anchor="middle" fill="#000">$</text>
<!-- barrel -->
<path d="M1088 555 L1088 685 C1088 725 1250 725 1250 685 L1250 555 Z" fill="#000"/>
<ellipse cx="1169" cy="553" rx="81" ry="32" fill="#FFBD59" stroke="#000" stroke-width="16"/>
<!-- carrot -->
<path d="M830 1030 C840 990 890 985 930 1010 C980 1045 1020 1110 1025 1190 C960 1195 880 1150 845 1100 C830 1075 825 1050 830 1030 Z" fill="#FFBD59" stroke="#000" stroke-width="18"/>
<path d="M880 1050 L925 1018 M925 1095 L965 1065" stroke="#000" stroke-width="16" fill="none"/>
<path d="M790 1075 C760 1060 755 1030 775 1015 C765 985 785 960 815 965 C830 935 875 930 890 955 C915 950 925 980 915 1000 C880 980 835 985 820 1030 C815 1050 818 1070 825 1085 C810 1090 798 1085 790 1075 Z" fill="#000"/>
</g>
<!-- icon 2: fork & knife -->
<g transform="translate(460 1940) scale(0.12602)" stroke-linecap="round" stroke-linejoin="round" fill="none" stroke="#000" stroke-width="30">
<path d="M515 238 A515 515 0 0 1 1165 385"/><path d="M1170 298 L1165 388 L1075 380"/>
<path d="M1212 462 A515 515 0 0 1 1058 1105"/><path d="M1068 1020 L1055 1108 L1145 1118"/>
<path d="M980 1158 A515 515 0 0 1 335 1005"/><path d="M325 1090 L332 1000 L422 1008"/>
<path d="M290 928 A515 515 0 0 1 440 280"/><path d="M352 272 L442 275 L435 368"/>
<g fill="#000" stroke="none">
<path d="M595 560 L655 560 L655 1020 C655 1055 595 1055 595 1020 Z"/>
<path d="M525 345 C525 325 552 325 552 345 L552 480 L583 480 L583 345 C583 325 610 325 610 345 L610 480 L641 480 L641 345 C641 325 668 325 668 345 L668 480 L699 480 L699 345 C699 325 726 325 726 345 L726 500 C726 550 690 572 655 572 L595 572 C560 572 525 550 525 500 Z"/>
<path d="M960 360 C960 340 945 345 930 355 C880 400 855 480 858 560 C862 640 900 680 905 740 L905 1020 C905 1055 960 1055 960 1020 Z"/>
</g>
</g>
<!-- icon 3: hand & coin -->
<g transform="translate(900 1935) scale(0.12602)" fill="#100e0c">
<circle cx="865" cy="392" r="186"/>
<circle cx="865" cy="392" r="247" fill="none" stroke="#100e0c" stroke-width="44" stroke-dasharray="92 37.33" stroke-dashoffset="110.66"/>
<text x="865" y="508" font-size="330" font-weight="700" text-anchor="middle" fill="#FFBD59">$</text>
<path d="M368 485 L460 578 L408 578 L408 722 L327 722 L327 578 L275 578 Z"/>
<path d="M615 692 L708 785 L657 785 L657 915 L577 895 L577 785 L525 785 Z"/>
<path d="M970 797 L1062 890 L1010 890 L1010 1130 L930 1152 L930 890 L878 890 Z"/>
<path d="M1282 650 L1375 743 L1323 743 L1323 973 L1240 973 L1240 743 L1190 743 Z"/>
<rect x="243" y="850" width="80" height="418"/>
<path d="M367 913 L490 913 L795 998 C830 1010 830 1055 795 1058 L565 1060 C535 1062 525 1090 550 1105 L730 1205 L920 1205 L1205 1115 C1240 1108 1250 1150 1225 1170 L915 1282 L590 1282 L367 1210 Z"/>
</g>
<!-- icon 4: household -->
<g transform="translate(1350 1935) scale(0.12602)" stroke-linecap="round" stroke-linejoin="round" fill="none" stroke="#000" stroke-width="32">
<circle cx="780" cy="778" r="130"/>
<path d="M545 1250 L545 1150 C545 1040 640 960 740 960 L820 960 C920 960 1015 1040 1015 1150 L1015 1250 C1015 1268 1005 1275 990 1275 L570 1275 C555 1275 545 1268 545 1250 Z"/>
<path d="M655 1125 L655 1270 M908 1125 L908 1270"/>
<circle cx="397" cy="508" r="146"/><circle cx="370" cy="885" r="146"/><circle cx="1165" cy="508" r="146"/><circle cx="1190" cy="885" r="146"/>
<path d="M595 325 L780 197 L968 325"/><path d="M650 295 L650 485 L910 485 L910 295"/><path d="M738 470 L738 400 C738 340 825 340 825 400 L825 470"/>
<path d="M780 535 L780 590 M570 608 L640 650 M992 608 L925 650 M560 850 L620 832 M1002 850 L945 832"/>
<text x="397" y="598" font-size="250" font-weight="700" text-anchor="middle" fill="#000" stroke="none">$</text>
<path d="M370 805 L370 965 M290 885 L450 885" stroke-width="62"/>
<path d="M370 812 L370 958 M297 885 L443 885" stroke="#FFBD59" stroke-width="12"/>
<path d="M1090 450 L1240 450 C1262 450 1262 500 1235 500 L1235 580 L1095 580 L1095 500 C1068 500 1068 450 1090 450 Z"/>
<path d="M1190 950 L1115 870 C1080 820 1150 780 1190 835 C1230 780 1300 820 1265 870 Z"/>
</g>

<text x="58.0" y="2154.4" font-size="34" font-weight="400" fill="#000" textLength="105.0" lengthAdjust="spacingAndGlyphs">Inflasi</text>
<text x="331.0" y="2156.0" font-size="34" font-weight="400" fill="#000" textLength="461.0" lengthAdjust="spacingAndGlyphs">Pergeseran Pola Konsumsi</text>
<text x="886.0" y="2156.0" font-size="34" font-weight="400" fill="#000" textLength="330.8" lengthAdjust="spacingAndGlyphs">Kenaikan Daya Beli</text>
<text x="1372.0" y="2153.0" font-size="34" font-weight="400" fill="#000" textLength="163.0" lengthAdjust="spacingAndGlyphs">Kenaikan</text>
<text x="1332.0" y="2199.7" font-size="34" font-weight="400" fill="#000" textLength="241.0" lengthAdjust="spacingAndGlyphs">Kebutuhan RT</text>
<text x="29.0" y="2226.0" font-size="35" font-weight="400" fill="#000" textLength="844.0" lengthAdjust="spacingAndGlyphs">Sumber: Debora Karyoko Via Goodstats.id (2025)</text>
</svg></body></html>
